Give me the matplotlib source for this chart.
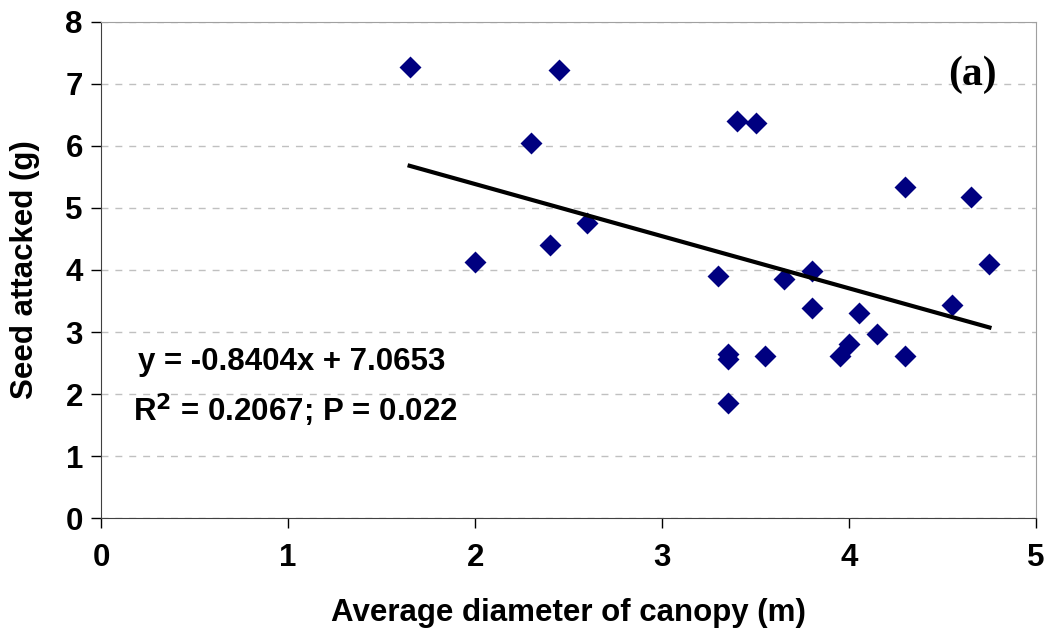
# Seed attacked vs canopy diameter scatter with linear fit
import matplotlib.pyplot as plt
import numpy as np

# Data
diameter = [1.65, 2.0, 2.3, 2.4, 2.45, 2.6, 3.3, 3.35, 3.35, 3.35, 3.4, 3.5, 3.55,
            3.65, 3.8, 3.8, 3.95, 4.0, 4.05, 4.15, 4.3, 4.3, 4.55, 4.65, 4.75]
seed = [7.27, 4.13, 6.05, 4.40, 7.23, 4.76, 3.90, 2.65, 2.56, 1.85, 6.40, 6.37, 2.61,
        3.85, 3.98, 3.39, 2.61, 2.81, 3.31, 2.97, 5.34, 2.61, 3.44, 5.18, 4.10]
slope = -0.8404
intercept = 7.0653

fig = plt.figure(figsize=(10.52, 6.39), dpi=100)
ax = fig.add_axes([0.096, 0.189, 0.889, 0.777])

ax.scatter(diameter, seed, marker='D', s=125, color='#000080', zorder=3, linewidths=0)

xfit = np.array([min(diameter), max(diameter)])
ax.plot(xfit, slope * xfit + intercept, color='black', linewidth=3, zorder=4)

ax.set_xlim(0, 5)
ax.set_ylim(0, 8)
ax.set_xticks(range(0, 6))
ax.set_yticks(range(0, 9))
ax.yaxis.grid(True, linestyle=(0, (5, 5)), color='#c0c0c0', linewidth=1)
ax.set_axisbelow(True)

for side in ['top', 'right']:
    ax.spines[side].set_color('#a0a0a0')
for side in ['left', 'bottom']:
    ax.spines[side].set_color('#404040')

ax.tick_params(direction='out', length=7, width=1, labelsize=22.5, pad=6)
ax.tick_params(axis='x', pad=11)
for lab in ax.get_xticklabels() + ax.get_yticklabels():
    lab.set_fontweight('bold')
    lab.set_family('Liberation Sans')

ax.set_xlabel("Average diameter of canopy (m)", fontsize=22.5, fontweight='bold',
              family='Liberation Sans', labelpad=18)
ax.set_ylabel("Seed attacked (g)", fontsize=22.5, fontweight='bold',
              family='Liberation Sans', labelpad=18)

ax.text(0.2, 2.52, "y = -0.8404x + 7.0653", fontsize=22.5, fontweight='bold',
        family='Liberation Sans', va='center')
ax.text(0.17, 1.74, "R$^{\\mathbf{2}}$ = 0.2067; P = 0.022", fontsize=22.5, fontweight='bold',
        family='Liberation Sans', va='center')
ax.text(4.79, 7.15, "(a)", fontsize=30, fontweight='bold', family='Liberation Serif',
        ha='right', va='center')

plt.savefig("out.png", dpi=100)
